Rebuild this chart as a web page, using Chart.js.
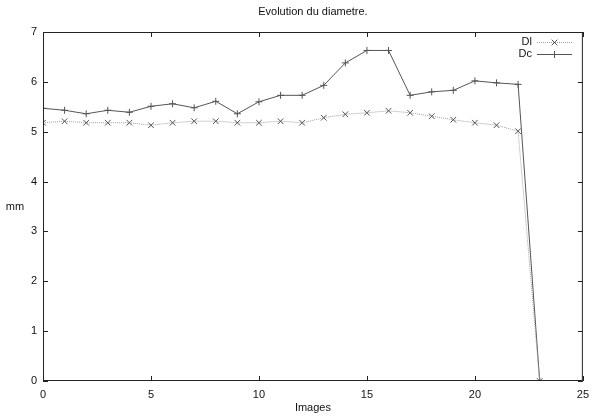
<!DOCTYPE html>
<html><head><meta charset="utf-8">
<script src="https://cdn.jsdelivr.net/npm/chart.js@4/dist/chart.umd.min.js"></script>
<style>html,body{margin:0;padding:0;background:#fff}#wrap{width:596px;height:419px}</style>
</head><body><div id="wrap"><canvas id="c" width="596" height="419"></canvas></div>
<script>
const images = [0,1,2,3,4,5,6,7,8,9,10,11,12,13,14,15,16,17,18,19,20,21,22,23];
const dl = [5.18,5.21,5.18,5.18,5.18,5.13,5.18,5.21,5.21,5.18,5.18,5.21,5.18,5.28,5.35,5.38,5.42,5.38,5.31,5.24,5.18,5.13,5.01,0];
const dc = [5.47,5.43,5.36,5.43,5.39,5.51,5.56,5.48,5.61,5.36,5.60,5.73,5.73,5.93,6.38,6.63,6.63,5.73,5.80,5.83,6.02,5.98,5.95,0];
const xTicks = [0,5,10,15,20,25];
const yTicks = [0,1,2,3,4,5,6,7];
const title = 'Evolution du diametre.';
const xTitle = 'Images';
const yTitle = 'mm';
const seriesNames = ['Dl','Dc'];

const FONT = '11px "Liberation Sans", Arial, sans-serif';
const toPts = ys => ys.map((y,i)=>({x:images[i], y}));

const frame = {
  id:'frame',
  afterDraw(chart){
    const {ctx, chartArea:a, scales:{x,y}} = chart;
    ctx.save();
    ctx.strokeStyle = '#222'; ctx.lineWidth = 1;
    ctx.strokeRect(a.left+0.5, a.top+0.5, a.right-a.left-1, a.bottom-a.top-1);
    const L = 5;
    ctx.beginPath();
    xTicks.forEach(v=>{ const px = Math.round(x.getPixelForValue(v))+0.5;
      ctx.moveTo(px,a.bottom); ctx.lineTo(px,a.bottom-L);
      ctx.moveTo(px,a.top); ctx.lineTo(px,a.top+L); });
    yTicks.forEach(v=>{ const py = Math.round(y.getPixelForValue(v))+0.5;
      ctx.moveTo(a.left,py); ctx.lineTo(a.left+L,py);
      ctx.moveTo(a.right,py); ctx.lineTo(a.right-L,py); });
    ctx.stroke();
    ctx.fillStyle = '#111'; ctx.font = FONT;
    ctx.textAlign='center'; ctx.textBaseline='middle';
    ctx.fillText(title, (a.left+a.right)/2, 12);
    ctx.fillText(xTitle, (a.left+a.right)/2, 408);
    ctx.fillText(yTitle, 15, (a.top+a.bottom)/2);
    // legend
    const ds = chart.data.datasets;
    const rows = [42, 54];
    ds.forEach((d,i)=>{
      const yy = rows[i];
      ctx.textAlign='right'; ctx.fillStyle='#111';
      ctx.fillText(seriesNames[i], 532, yy);
      ctx.save();
      ctx.strokeStyle = d.borderColor; ctx.lineWidth = 1;
      ctx.setLineDash(d.borderDash || []);
      ctx.beginPath(); ctx.moveTo(537, yy+0.5); ctx.lineTo(572, yy+0.5); ctx.stroke();
      ctx.setLineDash([]);
      ctx.strokeStyle = d.pointBorderColor;
      Chart.helpers.drawPoint(ctx, {pointStyle:d.pointStyle, radius:d.pointRadius, borderWidth:1}, 554.5, yy+0.5);
      ctx.restore();
    });
    ctx.restore();
  }
};

new Chart(document.getElementById('c'), {
  type:'line',
  data:{ datasets:[
    {label:seriesNames[0], data:toPts(dl), borderColor:'#a0a0a0', pointBorderColor:'#555', borderWidth:1, borderDash:[1,1],
     pointStyle:'crossRot', pointRadius:4, pointBorderWidth:1, fill:false, tension:0},
    {label:seriesNames[1], data:toPts(dc), borderColor:'#555', pointBorderColor:'#555', borderWidth:1,
     pointStyle:'cross', pointRadius:3.5, pointBorderWidth:1, fill:false, tension:0}
  ]},
  options:{
    responsive:false, animation:false, devicePixelRatio:1,
    layout:{padding:{top:32, right:13, left:0, bottom:0}},
    plugins:{legend:{display:false}, title:{display:false}, tooltip:{enabled:false}},
    scales:{
      x:{type:'linear', min:0, max:25,
         afterFit(s){ s.height = 38; },
         afterBuildTicks(s){ s.ticks = xTicks.map(v=>({value:v})); },
         grid:{display:false, drawTicks:false}, border:{display:false},
         ticks:{color:'#111', font:{family:'"Liberation Sans", Arial, sans-serif', size:11}, padding:7, maxRotation:0}},
      y:{min:0, max:7,
         afterFit(s){ s.width = 43; },
         afterBuildTicks(s){ s.ticks = yTicks.map(v=>({value:v})); },
         grid:{display:false, drawTicks:false}, border:{display:false},
         ticks:{color:'#111', font:{family:'"Liberation Sans", Arial, sans-serif', size:11}, padding:6}}
    }
  },
  plugins:[frame]
});
</script></body></html>
